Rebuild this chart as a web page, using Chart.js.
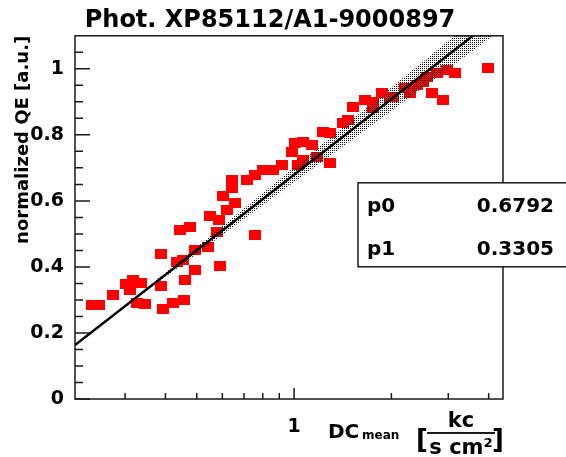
<!DOCTYPE html>
<html>
<head>
<meta charset="utf-8">
<script src="https://cdn.jsdelivr.net/npm/chart.js@4.4.1/dist/chart.umd.min.js"></script>
<style>
  html, body { margin: 0; padding: 0; background: #fff; }
  #wrap { width: 566px; height: 457px; }
</style>
</head>
<body>
<div id="wrap"><canvas id="qeChart" width="566" height="457"></canvas></div>
<script>
// --- axis ranges and ticks ---
const xMin = 0.21, xMax = 4.43;
const yMin = 0, yMax = 1.1;
const xLabelTicks = [1];
const xSmallTicks = [0.3, 0.4, 0.5, 0.6, 0.7, 0.8, 0.9, 2, 3, 4];
const yLabelTicks = [0, 0.2, 0.4, 0.6, 0.8, 1];

// --- measured points (DC mean vs normalized QE) ---
const dcMean = [0.237, 0.249, 0.275, 0.302, 0.317, 0.336, 0.311, 0.326, 0.346, 0.387,
  0.387, 0.393, 0.422, 0.434, 0.453, 0.457, 0.460, 0.444, 0.476, 0.494,
  0.494, 0.542, 0.550, 0.578, 0.586, 0.590, 0.620, 0.657, 0.603, 0.643,
  0.643, 0.715, 0.757, 0.757, 0.802, 0.861, 0.918, 0.986, 1.007, 1.029,
  1.066, 1.066, 1.137, 1.178, 1.230, 1.293, 1.293, 1.418, 1.470, 1.523,
  1.659, 1.756, 1.756, 1.873, 1.983, 2.026, 2.207, 2.287, 2.403, 2.508,
  2.581, 2.674, 2.771, 2.893, 2.977, 3.152, 3.987];
const qeNorm = [0.285, 0.285, 0.315, 0.348, 0.361, 0.352, 0.330, 0.291, 0.288, 0.342,
  0.439, 0.273, 0.291, 0.415, 0.421, 0.300, 0.361, 0.512, 0.521, 0.391,
  0.452, 0.461, 0.555, 0.506, 0.542, 0.403, 0.573, 0.594, 0.615, 0.639,
  0.664, 0.664, 0.679, 0.497, 0.694, 0.694, 0.709, 0.748, 0.776, 0.709,
  0.779, 0.724, 0.770, 0.733, 0.809, 0.806, 0.715, 0.836, 0.845, 0.885,
  0.906, 0.900, 0.882, 0.927, 0.915, 0.915, 0.942, 0.927, 0.952, 0.961,
  0.976, 0.927, 0.988, 0.906, 0.997, 0.988, 1.003];

// --- fit result: QE = p0 + p1 * ln(DC) ---
const fitNames = ['p0', 'p1'];
const fitValues = [0.6792, 0.3305];

// --- confidence band half width ---
const bandX = [0.33, 0.5, 0.75, 1, 1.5, 2, 3, 4.43];
const bandHalf = [0.003, 0.010, 0.017, 0.022, 0.030, 0.035, 0.042, 0.048];

const FONT = '"DejaVu Sans", sans-serif';
const fitAt = x => fitValues[0] + fitValues[1] * Math.log(x);

const points = dcMean.map((x, i) => ({ x: x, y: qeNorm[i] }));
const fitLine = [xMin, xMax].map(x => ({ x: x, y: fitAt(x) }));
const bandLow = bandX.map((x, i) => ({ x: x, y: fitAt(x) - bandHalf[i] }));
const bandHigh = bandX.map((x, i) => ({ x: x, y: fitAt(x) + bandHalf[i] }));

const canvas = document.getElementById('qeChart');
const ctx = canvas.getContext('2d');

// red square marker (slightly wider than tall like the picture)
const marker = document.createElement('canvas');
marker.width = 12; marker.height = 10;
const mctx = marker.getContext('2d');
mctx.fillStyle = '#ff0000';
mctx.fillRect(0, 0, 12, 10);

// dotted fill for the band
const pat = document.createElement('canvas');
pat.width = 2; pat.height = 2;
const pctx = pat.getContext('2d');
pctx.fillStyle = '#000';
pctx.fillRect(0, 0, 1, 1);
const stipple = ctx.createPattern(pat, 'repeat');

// frame, inward ticks, stats box and x title
const rootDecor = {
  id: 'rootDecor',
  afterDraw(chart) {
    const c = chart.ctx;
    const a = chart.chartArea;
    const x = chart.scales.x, y = chart.scales.y;
    c.save();
    c.strokeStyle = '#1a1a1a';
    c.lineWidth = 1.5;
    c.beginPath();
    for (let i = 0; i < 22; i++) {
      const py = y.getPixelForValue(i * 0.05);
      const len = i % 4 === 0 ? 15 : 8;
      c.moveTo(a.left, py);
      c.lineTo(a.left + len, py);
    }
    xSmallTicks.forEach(v => {
      const px = x.getPixelForValue(v);
      c.moveTo(px, a.bottom);
      c.lineTo(px, a.bottom - 6);
    });
    xLabelTicks.forEach(v => {
      const px = x.getPixelForValue(v);
      c.moveTo(px, a.bottom);
      c.lineTo(px, a.bottom - 11);
    });
    c.stroke();
    c.strokeRect(a.left, a.top, a.right - a.left, a.bottom - a.top);

    // fit parameter box
    const bx = a.right - 145, by = a.top + 147, bh = 84;
    c.fillStyle = '#fff';
    c.fillRect(bx, by, 700, bh);
    c.strokeRect(bx, by, 700, bh);
    c.fillStyle = '#000';
    c.font = 'bold 20px ' + FONT;
    c.textBaseline = 'alphabetic';
    fitNames.forEach((name, i) => {
      const base = by + 29 + i * 43;
      c.textAlign = 'left';
      c.fillText(name, bx + 9, base);
      c.textAlign = 'right';
      c.fillText(fitValues[i].toFixed(4), bx + 196, base);
    });

    // x axis title: DC_mean [kc / s cm2]
    const r = a.right, b = a.bottom;
    c.textAlign = 'left';
    c.font = 'bold 20px ' + FONT;
    c.fillText('DC', r - 175, b + 39);
    c.font = 'bold 12px ' + FONT;
    c.fillText('mean', r - 141, b + 40);
    c.font = 'bold 26px ' + FONT;
    c.fillText('[', r - 87, b + 49);
    c.textAlign = 'right';
    c.fillText(']', r + 1, b + 49);
    c.textAlign = 'center';
    c.font = 'bold 21px ' + FONT;
    c.fillText('kc', r - 42, b + 28);
    c.fillText('s cm\u00b2', r - 42, b + 55);
    c.lineWidth = 2;
    c.beginPath();
    c.moveTo(r - 76, b + 34);
    c.lineTo(r - 8, b + 34);
    c.stroke();
    c.restore();
  }
};

new Chart(ctx, {
  type: 'scatter',
  data: {
    datasets: [
      {
        type: 'line',
        label: 'fit',
        data: fitLine,
        borderColor: '#000',
        borderWidth: 2.5,
        pointRadius: 0,
        fill: false,
        order: 1
      },
      {
        type: 'line',
        label: 'band low',
        data: bandLow,
        borderColor: 'rgba(0,0,0,0)',
        borderWidth: 0,
        pointRadius: 0,
        fill: false,
        order: 2
      },
      {
        type: 'line',
        label: 'band high',
        data: bandHigh,
        borderColor: 'rgba(0,0,0,0)',
        borderWidth: 0,
        pointRadius: 0,
        fill: '-1',
        backgroundColor: stipple,
        order: 2
      },
      {
        label: 'QE',
        data: points,
        pointStyle: marker,
        pointRadius: 6,
        backgroundColor: '#ff0000',
        borderWidth: 0,
        order: 3
      }
    ]
  },
  options: {
    responsive: false,
    animation: false,
    devicePixelRatio: 1,
    layout: { padding: { left: 0, right: 26, top: 0, bottom: 0 } },
    plugins: {
      legend: { display: false },
      tooltip: { enabled: false },
      title: {
        display: true,
        text: 'Phot. XP85112/A1-9000897',
        color: '#000',
        font: { family: FONT, size: 24, weight: 'bold' },
        padding: { top: 6, bottom: 1 }
      }
    },
    scales: {
      x: {
        type: 'logarithmic',
        position: 'bottom',
        min: xMin,
        max: xMax,
        grid: { display: false },
        border: { display: false },
        afterBuildTicks: s => { s.ticks = xLabelTicks.map(v => ({ value: v })); },
        afterFit: s => { s.height = 58; },
        ticks: {
          color: '#000',
          padding: 9,
          autoSkip: false,
          maxRotation: 0,
          font: { family: FONT, size: 19, weight: 'bold' },
          callback: v => String(v)
        }
      },
      y: {
        position: 'left',
        min: yMin,
        max: yMax,
        grid: { display: false },
        border: { display: false },
        afterBuildTicks: s => { s.ticks = yLabelTicks.map(v => ({ value: v })); },
        afterFit: s => { s.width = 75; },
        ticks: {
          color: '#000',
          padding: 3,
          font: { family: FONT, size: 19, weight: 'bold' },
          callback: v => String(v)
        },
        title: {
          display: true,
          text: 'normalized QE [a.u.]',
          align: 'end',
          color: '#000',
          padding: { top: 13 },
          font: { family: FONT, size: 18, weight: 'bold' }
        }
      },
      y2: {
        position: 'right',
        display: true,
        grid: { display: false },
        border: { display: false },
        ticks: { display: false },
        afterFit: s => { s.width = 37; }
      }
    }
  },
  plugins: [rootDecor]
});
</script>
</body>
</html>
